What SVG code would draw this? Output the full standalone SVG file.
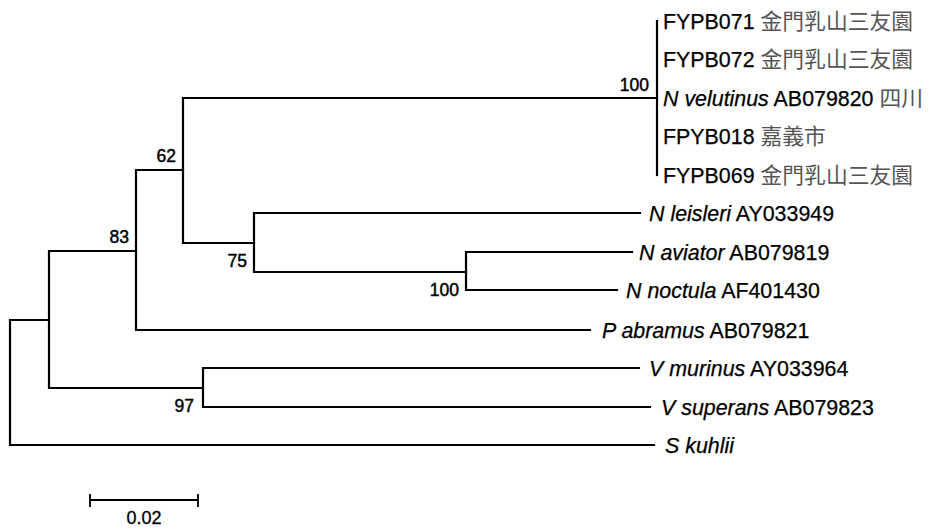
<svg xmlns="http://www.w3.org/2000/svg" width="929" height="532" viewBox="0 0 929 532">
<style>
.br{fill:none;stroke:#000;stroke-width:2.2;stroke-linecap:square}
.lb{font-family:"Liberation Sans",Arial,sans-serif;font-size:21.4px;fill:#000;stroke:#000;stroke-width:0.25}
.sp{font-style:italic}
.cjk{font-family:"Noto Sans CJK TC","Noto Sans CJK SC",sans-serif;font-size:21.8px;fill:#555;stroke:none}
.bs{font-family:"Liberation Sans",Arial,sans-serif;font-size:17.5px;fill:#000;stroke:#000;stroke-width:0.45;text-anchor:end}
.sc{font-family:"Liberation Sans",Arial,sans-serif;font-size:18px;fill:#000;stroke:#000;stroke-width:0.3;text-anchor:middle}
</style>
<rect width="929" height="532" fill="#fff"/>
<g id="connectors">
<path class="br" d="M10,320 V445 M10,320 H49 M10,445 H654"/>
<path class="br" d="M49,251 V388 M49,251 H136 M49,388 H203"/>
<path class="br" d="M136,170 V330 M136,170 H183 M136,330 H590"/>
<path class="br" d="M183,98 V243 M183,98 H657 M183,243 H254"/>
<path class="br" d="M254,213 V272 M254,213 H640 M254,272 H466"/>
<path class="br" d="M466,252 V290 M466,252 H632 M466,290 H617"/>
<path class="br" d="M203,368 V407 M203,368 H639 M203,407 H650"/>
<path class="br" d="M657,21 V175"/>
</g>
<g id="tip-FYPB071"><text class="lb" x="663" y="28.5">FYPB071 <tspan class="cjk">金門乳山三友園</tspan></text></g>
<g id="tip-FYPB072"><text class="lb" x="663" y="67">FYPB072 <tspan class="cjk">金門乳山三友園</tspan></text></g>
<g id="tip-velutinus"><text class="lb" x="663" y="105.5"><tspan class="sp">N velutinus</tspan> AB079820 <tspan class="cjk">四川</tspan></text></g>
<g id="tip-FPYB018"><text class="lb" x="663" y="144">FPYB018 <tspan class="cjk">嘉義市</tspan></text></g>
<g id="tip-FYPB069"><text class="lb" x="663" y="182.5">FYPB069 <tspan class="cjk">金門乳山三友園</tspan></text></g>
<g id="tip-leisleri"><text class="lb" x="649" y="220.5"><tspan class="sp">N leisleri</tspan> AY033949</text></g>
<g id="tip-aviator"><text class="lb" x="639" y="259.5"><tspan class="sp">N aviator</tspan> AB079819</text></g>
<g id="tip-noctula"><text class="lb" x="626" y="297.5"><tspan class="sp">N noctula</tspan> AF401430</text></g>
<g id="tip-abramus"><text class="lb" x="602" y="337.5"><tspan class="sp">P abramus</tspan> AB079821</text></g>
<g id="tip-murinus"><text class="lb" x="649" y="375.5"><tspan class="sp">V murinus</tspan> AY033964</text></g>
<g id="tip-superans"><text class="lb" x="661" y="414.5"><tspan class="sp">V superans</tspan> AB079823</text></g>
<g id="tip-kuhlii"><text class="lb" x="665" y="452.5"><tspan class="sp">S kuhlii</tspan></text></g>
<g id="node-100a"><text class="bs" x="649" y="91">100</text></g>
<g id="node-62"><text class="bs" x="176" y="162">62</text></g>
<g id="node-83"><text class="bs" x="129" y="243">83</text></g>
<g id="node-75"><text class="bs" x="247" y="267">75</text></g>
<g id="node-100b"><text class="bs" x="459" y="296">100</text></g>
<g id="node-97"><text class="bs" x="194" y="412">97</text></g>
<g id="scale">
<path class="br" d="M90,500 H198 M90,495 V506 M198,495 V506" style="stroke-width:1.8"/>
<text class="sc" x="144" y="523.5">0.02</text>
</g>
</svg>
